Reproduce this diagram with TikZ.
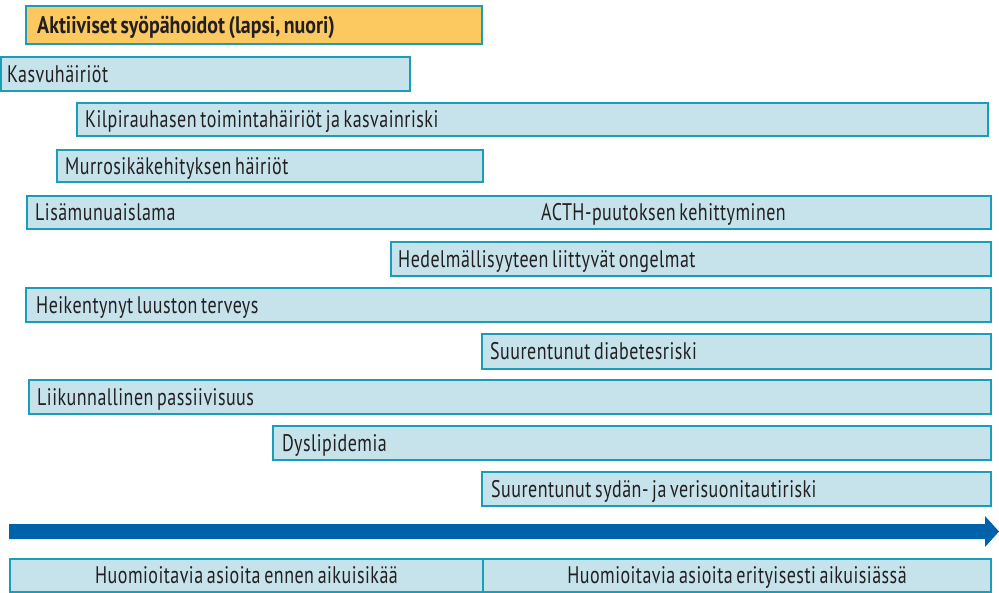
\documentclass[tikz,border=0pt]{standalone}
\usepackage{fontspec}
\setmainfont{PT Sans}[FakeStretch=0.75,WordSpace=0.7,LetterSpace=2,BoldFeatures={FakeStretch=0.83,LetterSpace=0}]
\definecolor{boxfill}{HTML}{C6E3EB}
\definecolor{boxline}{HTML}{1B9DB8}
\definecolor{orfill}{HTML}{FBC95F}
\definecolor{arrowblue}{HTML}{0062AB}
\definecolor{txt}{HTML}{231F20}
\begin{document}
\begin{tikzpicture}[x=1pt,y=-1pt,
  box/.style={draw=boxline, fill=boxfill, line width=2pt, anchor=north west, inner sep=0pt},
  lbl/.style={anchor=west, inner sep=0pt, text=txt, text height=16.5pt, text depth=0pt,
    font=\fontsize{24}{26}\selectfont},
  clbl/.style={lbl, anchor=center},
  plain/.style={anchor=base west, inner sep=0pt, text=txt, font=\fontsize{24}{26}\selectfont}]
\useasboundingbox (0,0) rectangle (999,592);
\node[box,fill=orfill,minimum width=456pt,minimum height=38pt] (top) at (25,5) {};
\node[lbl,font=\fontsize{24}{26}\selectfont\bfseries] (topt) at ([xshift=12pt]top.west) {Aktiiviset syöpähoidot (lapsi, nuori)};
\node[box,minimum width=409pt,minimum height=34pt] (kasvu) at (0,56) {};
\node[lbl] (kasvut) at ([xshift=7pt]kasvu.west) {Kasvuhäiriöt};
\node[box,minimum width=911pt,minimum height=33pt] (kilpi) at (76,102) {};
\node[lbl] (kilpit) at ([xshift=9pt]kilpi.west) {Kilpirauhasen toimintahäiriöt ja kasvainriski};
\node[box,minimum width=426pt,minimum height=32pt] (murros) at (56,149) {};
\node[lbl] (murrost) at ([xshift=9pt]murros.west) {Murrosikäkehityksen häiriöt};
\node[box,minimum width=964pt,minimum height=33pt] (lisa) at (26,195) {};
\node[lbl] (lisat) at ([xshift=9pt]lisa.west) {Lisämunuaislama};
\node[lbl] (acth) at (lisa.west -| 541,0) {ACTH-puutoksen kehittyminen};
\node[box,minimum width=600pt,minimum height=34pt] (hedel) at (390,241) {};
\node[lbl] (hedelt) at ([xshift=8pt]hedel.west) {Hedelmällisyyteen liittyvät ongelmat};
\node[box,minimum width=965pt,minimum height=34pt] (heik) at (25,287) {};
\node[lbl] (heikt) at ([xshift=11pt]heik.west) {Heikentynyt luuston terveys};
\node[box,minimum width=509pt,minimum height=35pt] (diab) at (481,333) {};
\node[lbl] (diabt) at ([xshift=9pt]diab.west) {Suurentunut diabetesriski};
\node[box,minimum width=962pt,minimum height=34pt] (liik) at (28,379) {};
\node[lbl] (liikt) at ([xshift=9pt]liik.west) {Liikunnallinen passiivisuus};
\node[box,minimum width=718pt,minimum height=34pt] (dysl) at (272,425) {};
\node[lbl] (dyslt) at ([xshift=10pt]dysl.west) {Dyslipidemia};
\node[box,minimum width=509pt,minimum height=34pt] (sydan) at (481,471) {};
\node[lbl] (sydant) at ([xshift=10pt]sydan.west) {Suurentunut sydän- ja verisuonitautiriski};
\fill[arrowblue] (9,524) -- (985,524) -- (985,516) -- (999,531.5) -- (985,547) -- (985,539) -- (9,539) -- cycle;
\node[box,minimum width=473pt,minimum height=33pt] (ennen) at (9,558) {};
\node[clbl] (ennent) at (ennen.center) {Huomioitavia asioita ennen aikuisikää};
\node[box,minimum width=508pt,minimum height=33pt] (aikuis) at (482,558) {};
\node[clbl] (aikuist) at (aikuis.center) {Huomioitavia asioita erityisesti aikuisiässä};
\end{tikzpicture}
\end{document}
